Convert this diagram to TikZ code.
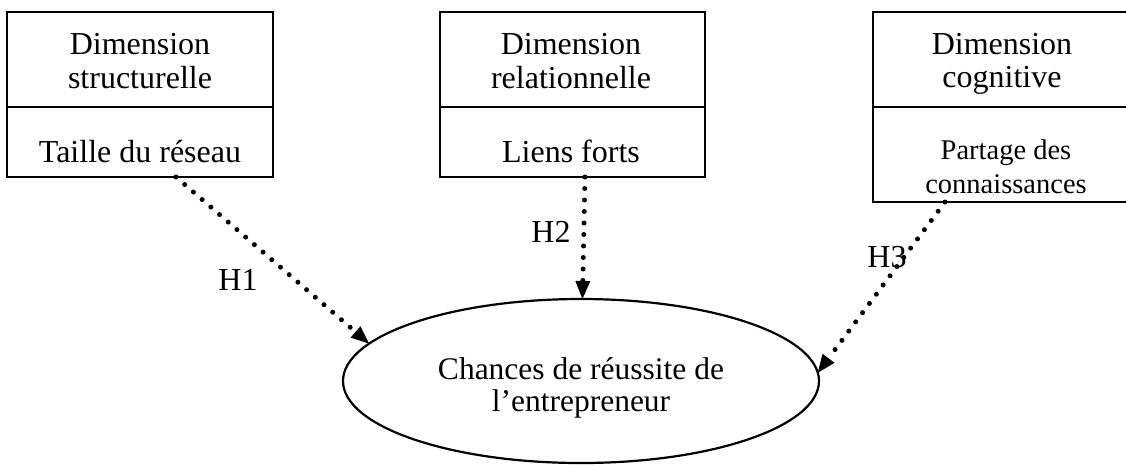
\documentclass[tikz,border=0pt]{standalone}
\usepackage{fontspec}
\setmainfont{Liberation Serif}
\usetikzlibrary{arrows.meta,shapes.geometric}
\begin{document}
\begin{tikzpicture}[x=1pt,y=-1pt,
  part/.style={draw,line width=2pt,rectangle,inner sep=0pt,outer sep=0pt},
  upper/.style={part,minimum height=95pt},
  txt/.style={anchor=base,inner sep=0pt,font=\fontsize{32}{36}\selectfont},
  smalltxt/.style={anchor=base,inner sep=0pt,font=\fontsize{28.5}{34}\selectfont},
  ovaltxt/.style={anchor=base,inner sep=0pt,font=\fontsize{31.5}{34}\selectfont},
  hyp/.style={line width=5pt,line cap=round,dash pattern=on 0pt off 11.5pt,
    -{Triangle[length=18pt,width=15pt,line width=0pt]}}]
\useasboundingbox (0,0) rectangle (1126,464);
% box 1
\node[upper,minimum width=266pt] (d1) at (140,59.5) {};
\node[part,minimum width=266pt,minimum height=70pt] (t1) at (140,142) {};
\node[txt] (d1a) at (140,54) {Dimension};
\node[txt] (d1b) at (140,88) {structurelle};
\node[txt] (t1a) at (140,162) {Taille du réseau};
% box 2
\node[upper,minimum width=265pt] (d2) at (572.5,59.5) {};
\node[part,minimum width=265pt,minimum height=70pt] (t2) at (572.5,142) {};
\node[txt] (d2a) at (571,54) {Dimension};
\node[txt] (d2b) at (571,88) {relationnelle};
\node[txt] (t2a) at (571,162) {Liens forts};
% box 3
\node[upper,minimum width=258pt] (d3) at (1002,59.5) {};
\node[part,minimum width=258pt,minimum height=95pt] (t3) at (1002,154.5) {};
\node[txt] (d3a) at (1002,54) {Dimension};
\node[txt] (d3b) at (1002,87) {cognitive};
\node[smalltxt] (t3a) at (1006,159) {Partage des};
\node[smalltxt] (t3b) at (1006,193) {connaissances};
% ellipse
\node[ellipse,draw,line width=2.2pt,minimum width=476pt,minimum height=164pt,
  inner sep=0pt,outer sep=0pt] (c) at (581,381) {};
\node[ovaltxt] (ca) at (581,379) {Chances de réussite de};
\node[ovaltxt] (cb) at (581,411) {l’entrepreneur};
% connectors
\coordinate (s1) at ([xshift=36pt]t1.south);
\coordinate (s2) at ([xshift=12.5pt]t2.south);
\coordinate (s3) at ([xshift=-57pt]t3.south);
\draw[hyp] (s1) -- (c.170.5);
\draw[hyp] (s2) -- (c.89);
\draw[hyp] (s3) -- (c.2.5);
% labels
\node[txt] (h1) at (238,290) {H1};
\node[txt] (h2) at (551,242) {H2};
\node[txt] (h3) at (887,267) {H3};
\end{tikzpicture}
\end{document}
